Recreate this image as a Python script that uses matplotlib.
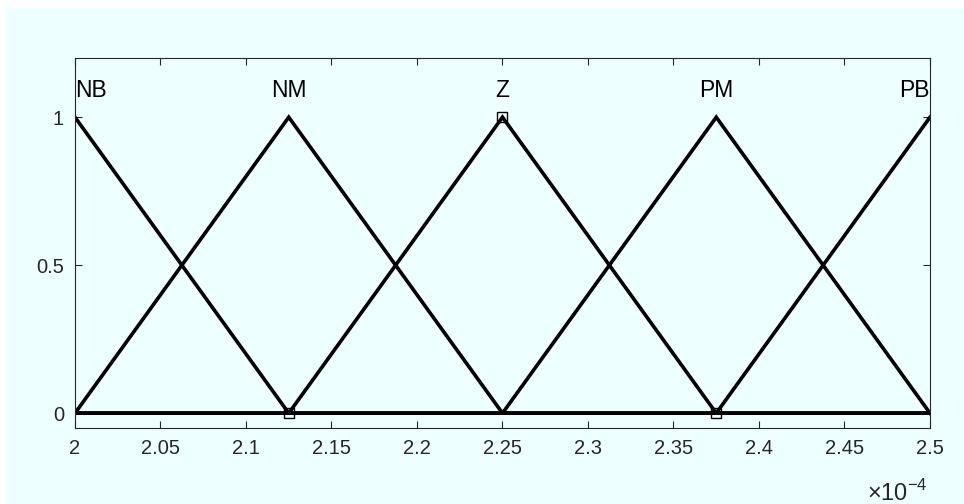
import numpy as np
import matplotlib.pyplot as plt
from matplotlib.patches import Rectangle
from matplotlib.ticker import FuncFormatter

plt.rcParams["font.family"] = ["Liberation Sans", "DejaVu Sans"]
plt.rcParams["mathtext.fontset"] = "custom"
plt.rcParams["mathtext.rm"] = "Liberation Sans"

# membership functions: triangular, peaks spread over the input range
names = ["NB", "NM", "Z", "PM", "PB"]
peaks = [2.0e-4, 2.125e-4, 2.25e-4, 2.375e-4, 2.5e-4]
half_width = 0.125e-4
xmin, xmax = 2.0e-4, 2.5e-4

# highlighted points (square markers)
mark_x = [2.125e-4, 2.25e-4, 2.375e-4]
mark_y = [0, 1, 0]

bg = "#EEFFFF"
fig = plt.figure(figsize=(9.64, 5.04), dpi=100, facecolor="white")
fig.patches.append(Rectangle((6 / 964, 0), 1, 1 - 8 / 504, transform=fig.transFigure,
                             facecolor=bg, edgecolor="none", zorder=-10))
ax = fig.add_axes([75 / 964, 1 - 428 / 504, 855 / 964, 370 / 504])
ax.set_facecolor(bg)

x = np.linspace(xmin, xmax, 2001)
for name, p in zip(names, peaks):
    y = np.clip(1 - np.abs(x - p) / half_width, 0, 1)
    ax.plot(x, y, color="black", lw=2.6, solid_joinstyle="miter")
    ha = "center"
    if p == xmin:
        ha = "left"
    elif p == xmax:
        ha = "right"
    ax.text(p, 1.09, name, ha=ha, va="center", fontsize=16.5, color="black",
            fontweight="medium")

ax.plot(mark_x, mark_y, ls="none", marker="s", ms=7.5, mfc="none", mec="black", mew=1)

ax.set_xlim(xmin, xmax)
ax.set_ylim(-0.05, 1.2)
ax.set_xticks(np.arange(2.0, 2.51, 0.05) * 1e-4)
ax.xaxis.set_major_formatter(FuncFormatter(lambda v, pos: f"{v * 1e4:.2f}".rstrip("0").rstrip(".")))
ax.set_yticks([0, 0.5, 1])
ax.set_yticklabels(["0", "0.5", "1"])
ax.tick_params(direction="in", top=True, right=True, length=5, width=0.8,
               labelsize=14.5, labelcolor="#262626", color="#262626", pad=8)
ax.text(0.997, -0.175, r"$\times10^{-4}$", transform=ax.transAxes, ha="right", va="center",
        fontsize=17, color="#262626")
for s in ax.spines.values():
    s.set_color("#262626")
    s.set_linewidth(0.8)

fig.savefig("out.png", dpi=100, facecolor="white")
